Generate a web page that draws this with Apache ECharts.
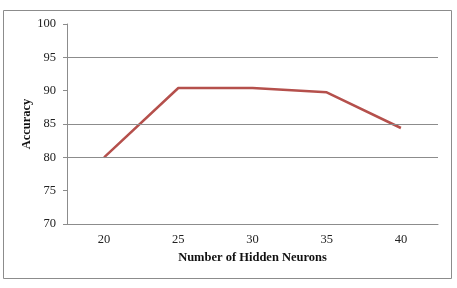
<!DOCTYPE html>
<html>
<head>
    <meta charset="utf-8">
    <title>Accuracy vs hidden neurons</title>
    <script src="https://cdn.jsdelivr.net/npm/echarts@6/dist/echarts.min.js"></script>
</head>
<body style="margin:0;background:#fff;">
    <div id="main" style="width:457px;height:288px;"></div>
    <script type="text/javascript">
        // data
        var neurons = ['20', '25', '30', '35', '40'];
        var accuracy = [80.0, 90.4, 90.4, 89.75, 84.4];
        // only these gridlines are visible in the original
        var gridValues = [95, 85, 80];

        var myChart = echarts.init(document.getElementById('main'));
        var font = '"Liberation Serif", "DejaVu Serif", serif';

        var option = {
            backgroundColor: '#fff',
            animation: false,
            graphic: [{
                type: 'rect',
                shape: { x: 3.5, y: 10.5, width: 448, height: 268 },
                style: { fill: 'none', stroke: '#8c8c8c', lineWidth: 1 }
            }],
            grid: { left: 67, right: 19, top: 24, bottom: 64 },
            xAxis: {
                type: 'category',
                data: neurons,
                boundaryGap: true,
                name: 'Number of Hidden Neurons',
                nameLocation: 'middle',
                nameGap: 27,
                nameMoveOverlap: false,
                nameTextStyle: { fontFamily: font, fontSize: 12.5, fontWeight: 'bold', color: '#111' },
                axisLine: { lineStyle: { color: '#8c8c8c', width: 1 } },
                axisTick: { show: false },
                axisLabel: { fontFamily: font, fontSize: 12.5, color: '#222', margin: 9 }
            },
            yAxis: {
                type: 'value',
                min: 70,
                max: 100,
                interval: 5,
                name: 'Accuracy',
                nameLocation: 'middle',
                nameGap: 34,
                nameMoveOverlap: false,
                nameTextStyle: { fontFamily: font, fontSize: 12.5, fontWeight: 'bold', color: '#111' },
                axisLine: { show: true, lineStyle: { color: '#8c8c8c', width: 1 } },
                axisTick: { show: true, length: 4, lineStyle: { color: '#8c8c8c' } },
                splitLine: { show: false },
                axisLabel: { fontFamily: font, fontSize: 12.5, color: '#222', margin: 11 }
            },
            series: [{
                type: 'line',
                data: accuracy,
                symbol: 'none',
                lineStyle: { color: '#b5504c', width: 2.5 },
                markLine: {
                    silent: true,
                    symbol: 'none',
                    label: { show: false },
                    lineStyle: { color: '#8c8c8c', type: 'solid', width: 1 },
                    data: gridValues.map(function (v) { return { yAxis: v }; })
                },
                z: 3
            }]
        };

        myChart.setOption(option);
    </script>
</body>
</html>
